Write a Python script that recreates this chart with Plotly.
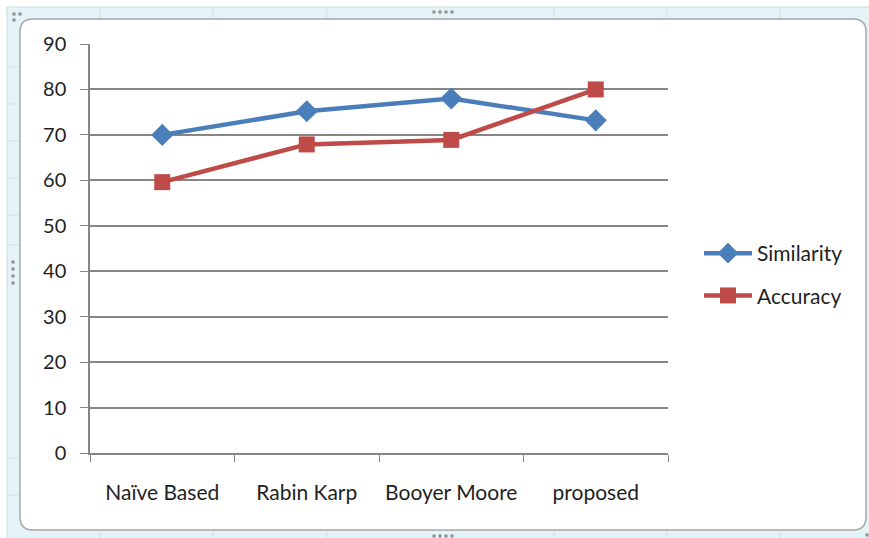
import plotly.graph_objects as go

categories = ["Naïve Based", "Rabin Karp", "Booyer Moore", "proposed"]
similarity = [70, 75.2, 78, 73.2]
accuracy = [59.6, 67.9, 68.9, 80]
y_ticks = [0, 10, 20, 30, 40, 50, 60, 70, 80, 90]

W, H = 869, 538
L, R, T, B = 90, 668, 44, 453   # plot area in pixels

def px(x):
    return (x - L) / (R - L)

def py(y):
    return (B - y) / (B - T)

FONT = "Lato"
TXT = "#1f1f1f"

fig = go.Figure()
fig.add_trace(go.Scatter(
    x=categories, y=similarity, name="Similarity", mode="lines+markers",
    line=dict(color="#4a7ebb", width=4.5),
    marker=dict(symbol="diamond", size=17, color="#4a7ebb"),
    legendgroup="a",
))
fig.add_trace(go.Scatter(
    x=categories, y=accuracy, name="Accuracy", mode="lines+markers",
    line=dict(color="#be4b48", width=4.5),
    marker=dict(symbol="square", size=16, color="#be4b48"),
    legendgroup="b",
))

shapes = []
shapes.append(dict(type="rect", xref="paper", yref="paper", layer="below",
                   x0=px(0), x1=px(W), y0=py(H), y1=py(0),
                   fillcolor="#ffffff", line=dict(width=0)))
shapes.append(dict(type="rect", xref="paper", yref="paper", layer="below",
                   x0=px(7), x1=px(W + 2), y0=py(H + 2), y1=py(7),
                   fillcolor="#e4f4f6", line=dict(color="#c9dadf", width=1)))
for cx in [100, 213, 327, 440, 554, 667, 780]:
    shapes.append(dict(type="line", xref="paper", yref="paper", layer="below",
                       x0=px(cx), x1=px(cx), y0=py(8), y1=py(19),
                       line=dict(color="#cfe0e4", width=1)))
    shapes.append(dict(type="line", xref="paper", yref="paper", layer="below",
                       x0=px(cx), x1=px(cx), y0=py(531), y1=py(H),
                       line=dict(color="#cfe0e4", width=1)))
for ry in [67, 104, 141, 178, 215, 245, 458, 495]:
    shapes.append(dict(type="line", xref="paper", yref="paper", layer="below",
                       x0=px(8), x1=px(19), y0=py(ry), y1=py(ry),
                       line=dict(color="#cfe0e4", width=1)))

x0, x1, y0, y1, r = 20, 866, 19, 530, 13
def P(x, y):
    return f"{px(x):.5f},{py(y):.5f}"
path = (f"M {P(x0 + r, y0)} L {P(x1 - r, y0)} Q {P(x1, y0)} {P(x1, y0 + r)} "
        f"L {P(x1, y1 - r)} Q {P(x1, y1)} {P(x1 - r, y1)} "
        f"L {P(x0 + r, y1)} Q {P(x0, y1)} {P(x0, y1 - r)} "
        f"L {P(x0, y0 + r)} Q {P(x0, y0)} {P(x0 + r, y0)} Z")
shapes.append(dict(type="path", xref="paper", yref="paper", layer="below",
                   path=path, fillcolor="#ffffff",
                   line=dict(color="#a7a7a7", width=1.5)))

dots = [(14, 14), (20, 14), (14, 20), (867, 535)]
dots += [(434 + 6 * i, 12) for i in range(4)]
dots += [(434 + 6 * i, 536) for i in range(4)]
dots += [(13, 262 + 7 * i) for i in range(4)]
for dx, dy in dots:
    shapes.append(dict(type="rect", xref="paper", yref="paper", layer="below",
                       x0=px(dx - 1.5), x1=px(dx + 1.5), y0=py(dy + 1.5), y1=py(dy - 1.5),
                       fillcolor="#8c8c8c", line=dict(width=0)))

fig.update_layout(
    width=W, height=H,
    margin=dict(l=L, r=W - R, t=T, b=H - B),
    paper_bgcolor="#ffffff",
    plot_bgcolor="rgba(0,0,0,0)",
    font=dict(family=FONT, size=20, color=TXT),
    shapes=shapes,
    showlegend=True,
    legend=dict(x=px(699), y=py(233), xanchor="left", yanchor="top",
                bgcolor="rgba(0,0,0,0)", itemwidth=48,
                tracegroupgap=12, font=dict(family=FONT, size=21, color=TXT)),
    xaxis=dict(
        type="category", range=[-0.5, 3.5],
        tickson="boundaries", ticks="outside", ticklen=7, tickcolor="#868686",
        showline=True, linecolor="#868686", linewidth=1.5,
        showgrid=False, ticklabelstandoff=20,
        tickfont=dict(family=FONT, size=21, color=TXT),
    ),
    yaxis=dict(
        range=[0, 90], tickvals=y_ticks, ticktext=[str(v) for v in y_ticks],
        ticks="outside", ticklen=8, tickcolor="#868686",
        showline=True, linecolor="#868686", linewidth=1.5,
        showgrid=True, gridcolor="#868686", gridwidth=1.5,
        zeroline=False, ticklabelstandoff=10,
        tickfont=dict(family=FONT, size=20, color=TXT),
    ),
)

fig.write_html("out.html")
